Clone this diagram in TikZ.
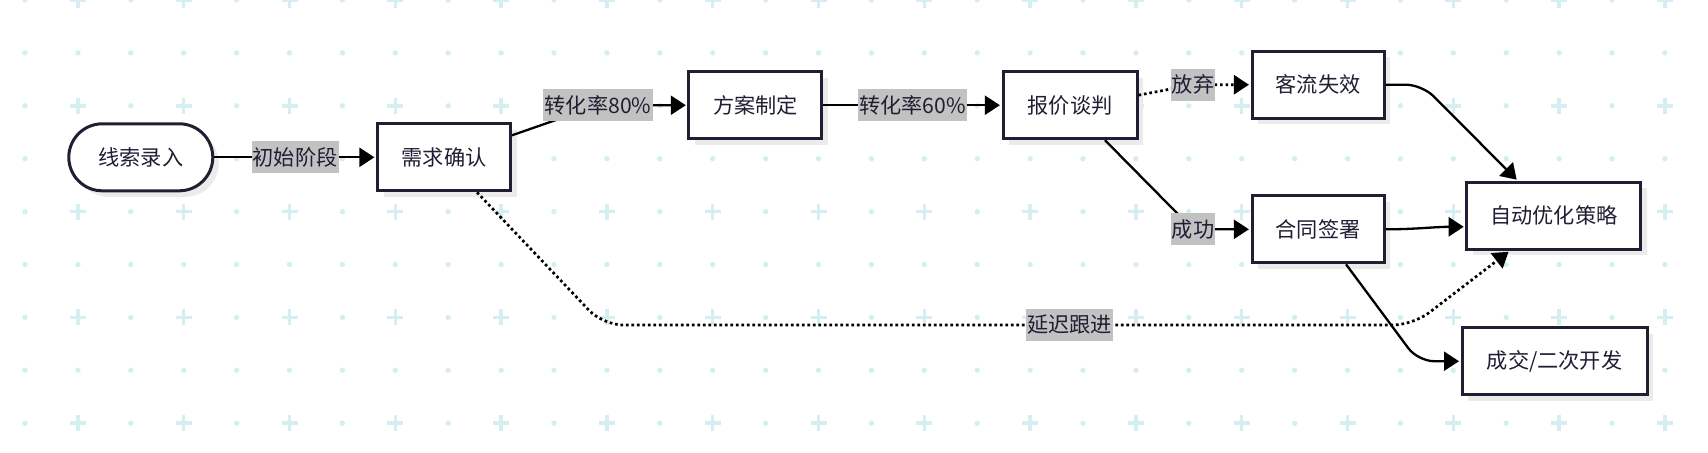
\documentclass[tikz,border=0pt]{standalone}
\usepackage{fontspec}
\setmainfont{Noto Sans CJK SC}
\usetikzlibrary{arrows.meta,shadows}

\definecolor{gridcyan}{HTML}{D5EEF1}
\definecolor{boxline}{HTML}{211E33}
\definecolor{tagfill}{HTML}{C2C2C2}
\definecolor{shadegray}{HTML}{EBEBEB}

\tikzset{
  box/.style={draw=boxline, line width=1.5pt, fill=white, text=boxline,
    minimum height=33.5pt, inner sep=0pt, font=\fontsize{10.6}{12}\selectfont,
    drop shadow={shadow xshift=3pt, shadow yshift=-3pt, fill=shadegray, opacity=1}},
  tag/.style={sharp corners, solid, fill=tagfill, inner xsep=0.6pt, inner ysep=3.1pt,
    text height=8.8pt, text depth=1pt, text=boxline, font=\fontsize{10.6}{12}\selectfont},
  flow/.style={line width=1.15pt, shorten >=0.8pt, -{Triangle[length=7.5pt,width=9.5pt]}},
  lazy/.style={flow, line width=1.35pt, dash pattern=on 1.35pt off 1.4pt},
}

\begin{document}
\begin{tikzpicture}[x=0.5pt, y=-0.5pt]
    \useasboundingbox (0,0) rectangle (1708,452);

    % dotted background grid
    \foreach \j in {0,...,8}
      \foreach \k in {0,...,31}{
        \pgfmathsetmacro\gx{25+52.9*\k}
        \pgfmathsetmacro\gy{52.9*\j}
        \pgfmathtruncatemacro\isplus{mod(\j+1,2)*mod(\k,2)}
        \ifnum\isplus=1
          \draw[gridcyan, line width=1.75pt] (\gx-8,\gy) -- (\gx+8,\gy) (\gx,\gy-8) -- (\gx,\gy+8);
        \else
          \fill[gridcyan] (\gx,\gy) circle (1.35pt);
        \fi
      }

    \coordinate (b80) at (598,105.3);
    \coordinate (bqi) at (1193,84.7);
    \coordinate (bcg) at (1193,229.3);
    \coordinate (kz) at (1422,84.7);
    \coordinate (hc) at (1418,361.2);
    \coordinate (ya) at (603,325);
    \coordinate (yb) at (1413,325);

    \node[box, rounded corners=16.75pt, minimum width=72pt] (xs) at (140.8,157.3) {线索录入};
    \foreach \n/\x/\y/\w/\t in {xq/444/157.3/66.5/需求确认, fa/755.4/105.2/66.5/方案制定,
        bj/1070/105.2/67/报价谈判, kl/1318/84.7/66/客流失效, ht/1318/229.3/66/合同签署,
        zd/1553.8/215.8/87/自动优化策略, cj/1554.6/361.2/92.5/{成交/二次开发}}
        \node[box, minimum width=\w pt] (\n) at (\x,\y) {\t};

    % main line
    \draw[flow] (xs) -- node[tag] {初始阶段} (xq);
    \draw[flow] ([yshift=11pt]xq.east) -- (b80) node[tag] {转化率80\%} -- (fa.west);
    \draw[flow] (fa) -- node[tag] {转化率60\%} (bj);

    % outcomes
    \draw[lazy] ([yshift=5pt]bj.east) -- (bqi) node[tag] {放弃} -- (kl.west);
    \draw[flow] ([xshift=17.5pt]bj.south) -- (bcg) node[tag] {成功} -- (ht.west);
    \draw[flow, rounded corners=8pt] (kl.east) -- (kz) -- ([xshift=-18pt]zd.north);
    \draw[flow] (ht.east) to[out=0,in=180] ([yshift=-5.5pt]zd.west);
    \draw[flow, rounded corners=8pt] ([xshift=14pt]ht.south) -- (hc) -- (cj.west);
    \draw[lazy, rounded corners=10pt] ([xshift=16.5pt]xq.south) -- (ya)
        -- node[tag, pos=0.576] {延迟跟进} (yb) -- ([xshift=-22pt]zd.south);
\end{tikzpicture}
\end{document}
